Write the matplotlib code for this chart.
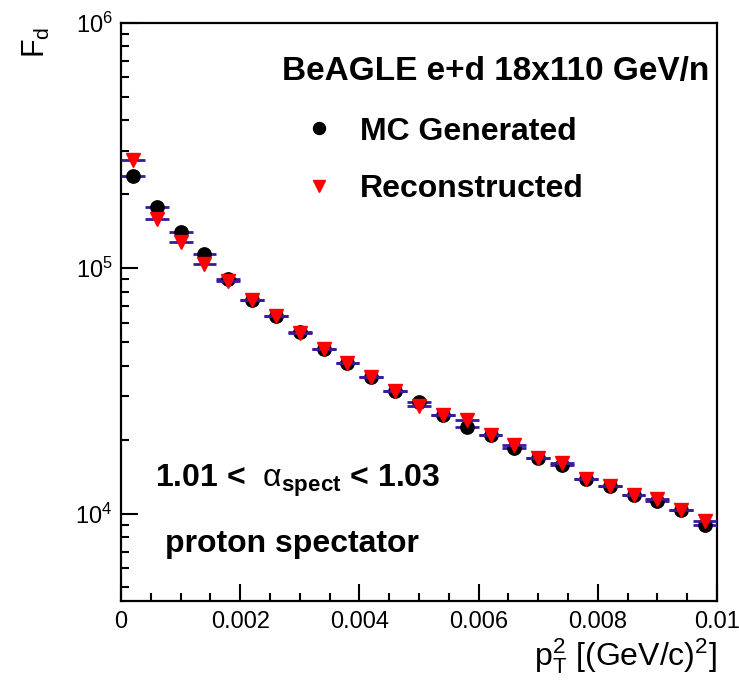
import numpy as np
import matplotlib.pyplot as plt
from matplotlib.ticker import FixedLocator, LogLocator, NullFormatter

plt.rcParams['font.family'] = ['Liberation Sans', 'DejaVu Sans']
plt.rcParams['mathtext.fontset'] = 'custom'
plt.rcParams['mathtext.rm'] = 'Liberation Sans'
plt.rcParams['mathtext.it'] = 'Liberation Sans:italic'
plt.rcParams['mathtext.bf'] = 'Liberation Sans:bold'

# бины p_T^2, ширина 0.0004
bin_width = 0.0004
pt2 = np.arange(25) * bin_width + bin_width / 2

# значения F_d
mc_gen = [237e3, 178e3, 140e3, 114e3, 90.1e3, 74.2e3, 63.9e3, 55.0e3, 46.7e3, 41.2e3,
          36.1e3, 31.6e3, 28.6e3, 25.2e3, 22.5e3, 20.8e3, 18.5e3, 16.9e3, 15.8e3, 13.8e3,
          13.0e3, 11.9e3, 11.2e3, 10.35e3, 8.94e3]
reco = [276e3, 159e3, 128e3, 104e3, 88.4e3, 74.2e3, 63.9e3, 54.6e3, 46.7e3, 41.2e3,
        36.1e3, 31.6e3, 27.3e3, 25.2e3, 24.1e3, 20.8e3, 19.05e3, 16.9e3, 16.1e3, 13.8e3,
        13.0e3, 11.9e3, 11.45e3, 10.35e3, 9.28e3]

x_ticks = [0, 0.002, 0.004, 0.006, 0.008, 0.01]
x_tick_labels = ['0', '0.002', '0.004', '0.006', '0.008', '0.01']
y_ticks = [1e4, 1e5, 1e6]
y_tick_labels = [r'$10^{4}$', r'$10^{5}$', r'$10^{6}$']

fig = plt.figure(figsize=(7.39, 6.88), dpi=100)
ax = fig.add_axes([121 / 739, 87 / 688, 596 / 739, 578.3 / 688])

bar_color = '#3a1a9a'
ax.errorbar(pt2, mc_gen, xerr=bin_width / 2, fmt='o', color='black', ms=9.6,
            ecolor=bar_color, elinewidth=2.0, capsize=0, zorder=3)
ax.errorbar(pt2, reco, xerr=bin_width / 2, fmt='v', color='red', ms=9.6,
            ecolor=bar_color, elinewidth=2.0, capsize=0, zorder=4)

ax.set_yscale('log')
ax.set_xlim(0, 0.01)
ax.set_ylim(4400, 1e6)

ax.xaxis.set_major_locator(FixedLocator(x_ticks))
ax.xaxis.set_minor_locator(FixedLocator(np.arange(0, 0.0101, 0.0005)))
ax.set_xticklabels(x_tick_labels)
ax.yaxis.set_major_locator(FixedLocator(y_ticks))
ax.yaxis.set_minor_locator(LogLocator(base=10, subs=np.arange(2, 10)))
ax.yaxis.set_minor_formatter(NullFormatter())
ax.set_yticklabels(y_tick_labels)

ax.tick_params(axis='both', which='both', direction='in', top=False, right=False,
               labelsize=17, width=1.5)
ax.tick_params(axis='y', which='major', length=12.5, pad=6)
ax.tick_params(axis='y', which='minor', length=6)
ax.tick_params(axis='x', which='major', length=12.5, pad=7)
ax.tick_params(axis='x', which='minor', length=5.5)
for s in ax.spines.values():
    s.set_linewidth(1.6)

# подписи осей
ax.text(1.0, (601 - 666) / 578.3, r'$\mathrm{p}_{\mathrm{T}}^{2}$ [(GeV/c)$^{2}$]',
        transform=ax.transAxes, ha='right', va='baseline', fontsize=23)
fig.text(52 / 739, 1 - 27 / 688, r'F$_{\mathrm{d}}$', rotation=90,
         ha='right', va='top', fontsize=22)

# подписи
ax.text(0.9866, 0.9009, 'BeAGLE e+d 18x110 GeV/n', transform=ax.transAxes,
        ha='right', va='baseline', fontsize=24, fontweight='bold')
ax.plot([0.3327], [0.8174], 'o', color='black', ms=8.6, transform=ax.transAxes)
ax.text(0.401, 0.797, 'MC Generated', transform=ax.transAxes,
        ha='left', va='baseline', fontsize=23, fontweight='bold')
ax.plot([0.3322], [0.7176], 'v', color='red', ms=8.6, transform=ax.transAxes)
ax.text(0.401, 0.6986, 'Reconstructed', transform=ax.transAxes,
        ha='left', va='baseline', fontsize=23, fontweight='bold')

ax.text(0.057, 0.1977, r'1.01 <  $\mathrm{\alpha}_{\mathbf{spect}}$ < 1.03',
        transform=ax.transAxes, ha='left', va='baseline', fontsize=23, fontweight='bold')
ax.text(0.074, 0.085, 'proton spectator', transform=ax.transAxes,
        ha='left', va='baseline', fontsize=23, fontweight='bold')

fig.savefig('out.png', dpi=100)
